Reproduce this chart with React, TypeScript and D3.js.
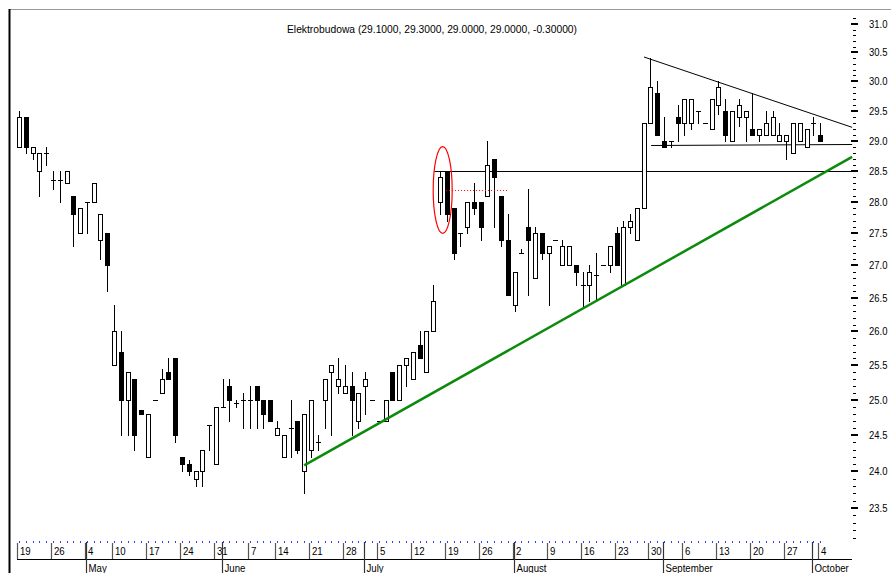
import React from 'react';
import * as d3 from 'd3';

// Elektrobudowa daily OHLC, 19 Apr 2004 - 4 Oct 2004 (trading-day index)
const opens = [
  28.9, 29.4, 28.8, 28.5, 28.8, 28.35, 28.35, 28.3, 28.1, 27.5,
  28.0, 28.0, 27.4, 27.5, 25.5, 25.7, 25.0, 25.3, 24.85, 24.2,
  25.0, 25.1, 25.4, 25.6, 24.2, 24.1, 23.9, 24.0, 24.65, 24.1,
  24.9, 25.2, 24.95, 25.0, 25.0, 25.2, 25.0, 25.0, 24.5, 24.2,
  24.6, 24.7, 24.0, 24.3, 24.4, 25.0, 25.4, 25.2, 25.1, 25.2,
  24.7, 25.2, 25.0, 24.7, 24.7, 25.4, 25.0, 25.5, 25.3, 25.8,
  25.4, 26.0, 28.0, 28.5, 27.9, 27.5, 27.6, 28.0, 28.0, 28.1,
  28.7, 28.1, 27.4, 26.4, 27.2, 27.6, 26.8, 27.5, 27.2, 27.4,
  27.0, 27.0, 27.0, 26.7, 26.7, 26.85, 27.0, 27.0, 27.5, 26.7,
  27.6, 27.4, 27.9, 29.3, 29.8, 29.0, 29.0, 29.4, 29.3, 29.3,
  29.5, 29.3, 29.2, 29.6, 29.5, 29.0, 29.4, 29.4, 29.2, 29.1,
  29.1, 29.1, 29.0, 29.0, 28.8, 29.0, 28.9, 29.3, 29.1,
];
const highs = [
  29.5, 29.4, 28.9, 28.8, 28.9, 28.5, 28.5, 28.5, 28.1, 27.9,
  28.0, 28.3, 27.8, 27.5, 26.4, 26.0, 25.4, 25.3, 24.85, 24.8,
  25.0, 25.45, 25.6, 25.6, 24.2, 24.15, 24.0, 24.3, 24.65, 24.9,
  25.3, 25.3, 25.0, 25.1, 25.2, 25.2, 25.0, 25.0, 24.7, 24.5,
  25.0, 24.7, 24.8, 25.0, 24.5, 25.3, 25.5, 25.6, 25.5, 25.4,
  25.1, 25.4, 25.0, 24.7, 25.0, 25.4, 25.5, 25.6, 25.7, 26.0,
  26.0, 26.7, 28.5, 28.5, 27.9, 27.5, 28.0, 28.3, 28.0, 29.0,
  28.7, 28.1, 27.8, 26.9, 27.25, 28.2, 27.6, 27.5, 27.3, 27.4,
  27.4, 27.3, 27.0, 26.9, 27.0, 27.2, 27.0, 27.3, 27.6, 27.7,
  27.8, 27.9, 29.3, 30.4, 30.0, 29.4, 29.0, 29.6, 29.7, 29.7,
  29.5, 29.3, 29.7, 30.0, 29.7, 29.5, 29.7, 29.5, 29.8, 29.2,
  29.5, 29.5, 29.3, 29.1, 29.3, 29.3, 29.2, 29.4, 29.3,
];
const lows = [
  28.9, 28.8, 28.7, 28.1, 28.6, 28.2, 28.0, 28.3, 27.3, 27.5,
  27.5, 28.0, 27.1, 26.6, 25.5, 24.5, 24.5, 24.3, 24.8, 24.2,
  25.0, 25.1, 25.3, 24.4, 24.0, 23.95, 23.8, 23.8, 24.3, 24.1,
  24.9, 24.7, 24.9, 24.6, 24.6, 24.6, 24.6, 24.7, 24.5, 24.2,
  24.2, 24.25, 23.7, 24.2, 24.3, 24.6, 24.5, 25.1, 25.1, 24.5,
  24.6, 24.8, 25.0, 24.7, 24.7, 25.0, 25.0, 25.2, 25.3, 25.6,
  25.4, 26.0, 27.8, 27.7, 27.1, 27.3, 27.5, 27.8, 27.4, 28.1,
  27.6, 27.3, 26.55, 26.3, 27.2, 26.55, 26.8, 27.1, 26.4, 27.4,
  27.0, 27.0, 26.7, 26.35, 26.45, 26.45, 27.0, 26.9, 27.0, 26.7,
  27.5, 27.4, 27.9, 29.3, 29.1, 28.9, 28.9, 29.0, 29.1, 29.2,
  29.3, 29.3, 29.2, 29.45, 29.0, 29.0, 29.25, 29.0, 29.1, 29.0,
  29.1, 29.1, 29.0, 28.7, 28.8, 29.0, 28.9, 29.1, 29.0,
];
const closes = [
  29.4, 28.9, 28.9, 28.8, 28.8, 28.35, 28.35, 28.5, 27.8, 27.9,
  28.0, 28.3, 27.8, 27.0, 26.0, 25.0, 25.4, 24.5, 24.8, 24.8,
  25.0, 25.3, 25.3, 24.5, 24.1, 24.0, 24.0, 24.3, 24.65, 24.9,
  24.9, 25.0, 24.95, 25.0, 25.0, 25.0, 24.8, 24.7, 24.6, 24.5,
  24.6, 24.3, 24.8, 25.0, 24.4, 25.3, 25.5, 25.3, 25.2, 25.0,
  25.1, 25.3, 25.0, 24.7, 25.0, 25.0, 25.5, 25.6, 25.7, 25.6,
  26.0, 26.45, 28.4, 27.8, 27.2, 27.5, 28.0, 27.9, 27.6, 28.6,
  28.4, 27.4, 26.55, 26.9, 27.2, 27.4, 27.5, 27.2, 27.3, 27.4,
  27.3, 27.3, 26.9, 26.7, 26.9, 26.85, 27.0, 27.3, 27.0, 27.6,
  27.7, 27.9, 29.3, 29.9, 29.1, 28.9, 29.0, 29.3, 29.7, 29.7,
  29.5, 29.3, 29.7, 29.9, 29.1, 29.5, 29.6, 29.5, 29.1, 29.2,
  29.3, 29.4, 29.1, 29.1, 29.3, 29.3, 29.2, 29.3, 29.0,
];

const weekLabels = ['19', '26', '4', '10', '17', '24', '31', '7', '14', '21', '28', '5', '12', '19', '26', '2', '9', '16', '23', '30', '6', '13', '20', '27', '4'];
const weekStartIdx = [0, 5, 10, 14, 19, 24, 29, 34, 38, 43, 48, 53, 58, 63, 68, 73, 78, 83, 88, 93, 98, 103, 108, 113, 118];
const monthLabels = ['May', 'June', 'July', 'August', 'September', 'October'];
const monthStartIdx = [10, 30, 51, 73, 95, 117];
const yLabels = [23.5, 24.0, 24.5, 25.0, 25.5, 26.0, 26.5, 27.0, 27.5, 28.0, 28.5, 29.0, 29.5, 30.0, 30.5, 31.0];

// drawn studies: [index, price] pairs
const greenTrend: [number, number][] = [[42, 24.08], [122.7, 28.73]];
const resistance: [number, number][] = [[92.05, 30.42], [122.7, 29.22]];
const support: [number, number][] = [[93.1, 28.92], [122.7, 28.95]];
const level: [number, number][] = [[61.2, 28.5], [122.7, 28.5]];
const redDotted: [number, number][] = [[62.9, 28.19], [71.9, 28.19]];
const ellipseSpec = { idx: 62.4, top: 28.9, bottom: 27.5, halfWidthIdx: 1.4 };

const title = 'Elektrobudowa (29.1000, 29.3000, 29.0000, 29.0000, -0.30000)';

const W = 891, H = 573;
const FONT = '"Liberation Sans", Arial, sans-serif';

export default function App() {
  const x = d3.scaleLinear().domain([0, 118]).range([19, 820.2]);
  const y = d3.scaleLog().domain([23.5, 31]).range([508, 24]);
  const px = (i: number) => Math.round(x(i));
  const py = (v: number) => Math.round(y(v));

  const seg = (pts: [number, number][], stroke: string, sw: number, dash?: string) => (
    <line x1={x(pts[0][0])} y1={y(pts[0][1])} x2={x(pts[1][0])} y2={y(pts[1][1])}
      stroke={stroke} strokeWidth={sw} strokeDasharray={dash} />
  );
  const hseg = (pts: [number, number][], stroke: string, dash?: string) => (
    <line x1={x(pts[0][0])} y1={py(pts[0][1]) + 0.5} x2={x(pts[1][0])} y2={py(pts[1][1]) + 0.5}
      stroke={stroke} strokeWidth={1} strokeDasharray={dash} />
  );

  const minorTicks = d3.range(231, 312).map((v) => v / 10);

  const ey1 = y(ellipseSpec.top), ey2 = y(ellipseSpec.bottom);
  const ecx = x(ellipseSpec.idx);
  const erx = x(ellipseSpec.halfWidthIdx) - x(0);

  return (
    <svg width={W} height={H} style={{ position: 'absolute', left: 0, top: 0, background: '#fff' }}
      xmlns="http://www.w3.org/2000/svg">
      <rect x={0} y={0} width={W} height={H} fill="#fff" />
      {/* frame */}
      <line x1={9} x2={W} y1={9.5} y2={9.5} stroke="#9a9a9a" strokeWidth={1} />
      <rect x={8.5} y={9} width={2} height={H - 9} fill="#000" />

      {/* title */}
      <text x={287} y={33} fontFamily={FONT} fontSize={11.5} fill="#000"
        textLength={290} lengthAdjust="spacingAndGlyphs">{title}</text>

      {/* y axis ticks */}
      {minorTicks.map((v) => {
        const isMajor = Math.abs(v * 2 - Math.round(v * 2)) < 1e-6;
        const yy = py(v);
        return isMajor
          ? <rect key={v} x={851} y={yy - 1} width={7} height={2} fill="#000" />
          : <rect key={v} x={853} y={yy} width={3} height={1} fill="#000" />;
      })}
      {yLabels.map((v) => (
        <text key={v} transform={`translate(869,${y(v) + 4}) scale(0.86,1)`} fontFamily={FONT}
          fontSize={11} fill="#000">{v.toFixed(1)}</text>
      ))}

      {/* horizontal study lines */}
      {hseg(level, '#000')}
      {hseg(support, '#000')}
      {seg(resistance, '#000', 1)}

      {/* candles */}
      {opens.map((o, i) => {
        const c = closes[i], h = highs[i], l = lows[i];
        const cx = px(i);
        const yt = py(Math.max(o, c)), yb = py(Math.min(o, c));
        const up = c >= o;
        return (
          <g key={i}>
            <line x1={cx + 0.5} x2={cx + 0.5} y1={py(h)} y2={py(l) + 1} stroke="#000" strokeWidth={1} />
            {yb - yt < 1
              ? <line x1={cx - 2} x2={cx + 3} y1={yt + 0.5} y2={yt + 0.5} stroke="#000" strokeWidth={1} />
              : <rect x={cx - 1.5} y={yt + 0.5} width={4} height={yb - yt}
                  fill={up ? '#fff' : '#000'} stroke="#000" strokeWidth={1} />}
          </g>
        );
      })}

      {/* trend line */}
      {seg(greenTrend, '#0b8a0b', 2.5)}
      {/* red annotations */}
      <ellipse cx={ecx} cy={(ey1 + ey2) / 2} rx={erx} ry={(ey2 - ey1) / 2} fill="none" stroke="#ff0000" strokeWidth={1.2} />
      {hseg(redDotted, '#ff0000', '1,2')}

      {/* blue indicator dots */}
      {opens.map((_, i) => (
        <rect key={'b' + i} x={px(i)} y={541} width={1} height={2} fill="#3a3aff" />
      ))}

      {/* date axis */}
      <line x1={17} x2={852} y1={559.5} y2={559.5} stroke="#000" strokeWidth={1} />
      {weekStartIdx.map((idx, k) => (
        <g key={'w' + k}>
          <line x1={px(idx) - 1.5} x2={px(idx) - 1.5} y1={543} y2={559} stroke="#555" strokeWidth={1.2} />
          <text transform={`translate(${px(idx) + 1},555) scale(0.84,1)`} fontFamily={FONT} fontSize={11.5} fill="#000">{weekLabels[k]}</text>
        </g>
      ))}
      {monthStartIdx.map((idx, k) => (
        <g key={'m' + k}>
          <line x1={px(idx) - 0.5} x2={px(idx) - 0.5} y1={542} y2={H} stroke="#333" strokeWidth={1.2} />
          <text transform={`translate(${px(idx) + 1.5},571.5) scale(0.84,1)`} fontFamily={FONT} fontSize={11.5} fill="#000">{monthLabels[k]}</text>
        </g>
      ))}
    </svg>
  );
}
